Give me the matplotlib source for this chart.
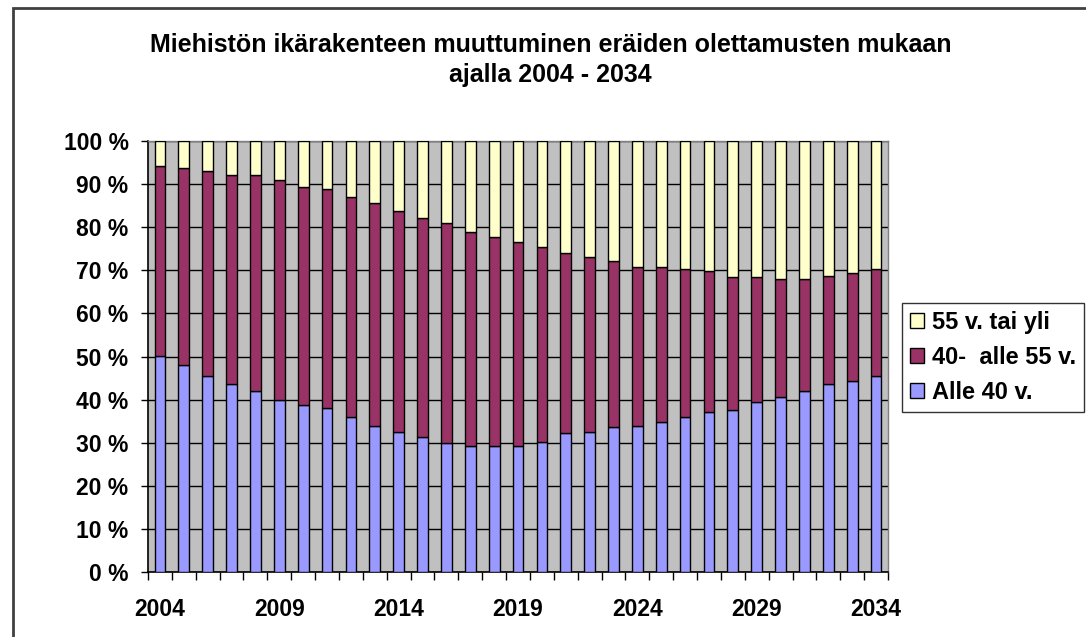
import numpy as np
import matplotlib
matplotlib.use("Agg")
import matplotlib.pyplot as plt
from matplotlib.patches import Rectangle

# Vuodet ja osuudet (%) luettu kuvasta
years = list(range(2004, 2035))
alle40 = [50.1, 48.0, 45.5, 43.6, 41.9, 39.8, 38.7, 38.1, 36.0, 33.9, 32.4,
          31.4, 30.0, 29.3, 29.3, 29.3, 30.2, 32.2, 32.4, 33.7, 33.9,
          34.8, 36.0, 37.2, 37.5, 39.5, 40.5, 41.9, 43.6, 44.4, 45.5]
# kumulatiivinen yläraja (Alle 40 + 40-55)
top40_55 = [94.2, 93.8, 93.0, 92.0, 92.0, 90.9, 89.4, 88.8, 87.0, 85.6, 83.7,
            82.2, 80.9, 78.9, 77.7, 76.5, 75.4, 74.1, 73.1, 72.2, 70.7,
            70.7, 70.3, 69.8, 68.4, 68.4, 67.9, 68.0, 68.6, 69.3, 70.3]
v40_55 = [t - a for t, a in zip(top40_55, alle40)]
v55 = [100 - t for t in top40_55]

labels = ['Alle 40 v.', '40-  alle 55 v.', '55 v. tai yli']
colors = ['#9999FF', '#993366', '#FFFFCC']

plt.rcParams['font.family'] = ['Liberation Sans', 'DejaVu Sans']

fig = plt.figure(figsize=(10.86, 6.37), dpi=100)
ax = fig.add_axes([148/1086, 1 - 572/637, 740/1086, 431/637])
ax.set_facecolor('#C0C0C0')

x = np.arange(len(years))
w = 0.45
b1 = ax.bar(x, alle40, w, color=colors[0], edgecolor='black', linewidth=1, zorder=3)
b2 = ax.bar(x, v40_55, w, bottom=alle40, color=colors[1], edgecolor='black', linewidth=1, zorder=3)
b3 = ax.bar(x, v55, w, bottom=top40_55, color=colors[2], edgecolor='black', linewidth=1, zorder=3)

ax.set_xlim(-0.5, len(years) - 0.5)
ax.set_ylim(0, 100)
ax.set_yticks(range(0, 101, 10))
ax.set_yticklabels([f'{v} %' for v in range(0, 101, 10)], fontsize=16.5, fontweight='bold')
ax.yaxis.grid(True, color='black', linewidth=1, zorder=1)
ax.set_axisbelow(True)

ax.set_xticks(x[::5])
ax.set_xticklabels([str(years[i]) for i in x[::5]], fontsize=16.5, fontweight='bold')
ax.set_xticks(np.arange(-0.5, len(years)), minor=True)
ax.tick_params(axis='x', which='major', length=0, pad=19)
ax.tick_params(axis='x', which='minor', length=6, width=1, direction='out')
ax.tick_params(axis='y', length=5, width=1, direction='out', pad=9)

for s in ['left', 'bottom']:
    ax.spines[s].set_color('black')
    ax.spines[s].set_linewidth(1.2)
for s in ['top', 'right']:
    ax.spines[s].set_color('#808080')
    ax.spines[s].set_linewidth(1)

fig.text(0.507, 1 - 33/637, 'Miehistön ikärakenteen muuttuminen eräiden olettamusten mukaan\najalla 2004 - 2034',
         ha='center', va='top', fontsize=18, fontweight='bold', linespacing=1.3)

leg = fig.legend([b3, b2, b1], labels[::-1], loc='upper left',
                 bbox_to_anchor=(902/1086, 1 - 303/637), frameon=True,
                 prop={'size': 17, 'weight': 'bold'}, handlelength=0.6, handleheight=0.6,
                 handletextpad=0.3, labelspacing=0.5, borderpad=0.35, fancybox=False,
                 borderaxespad=0)
leg.get_frame().set_edgecolor('black')
leg.get_frame().set_linewidth(1)

# rajaus kaavion ympärillä
fig.patches.append(Rectangle((13/1086, -0.1), 1.2, 1 - 8/637 + 0.1, transform=fig.transFigure,
                             fill=False, edgecolor='#404040', linewidth=2))

fig.savefig('out.png', dpi=100)
